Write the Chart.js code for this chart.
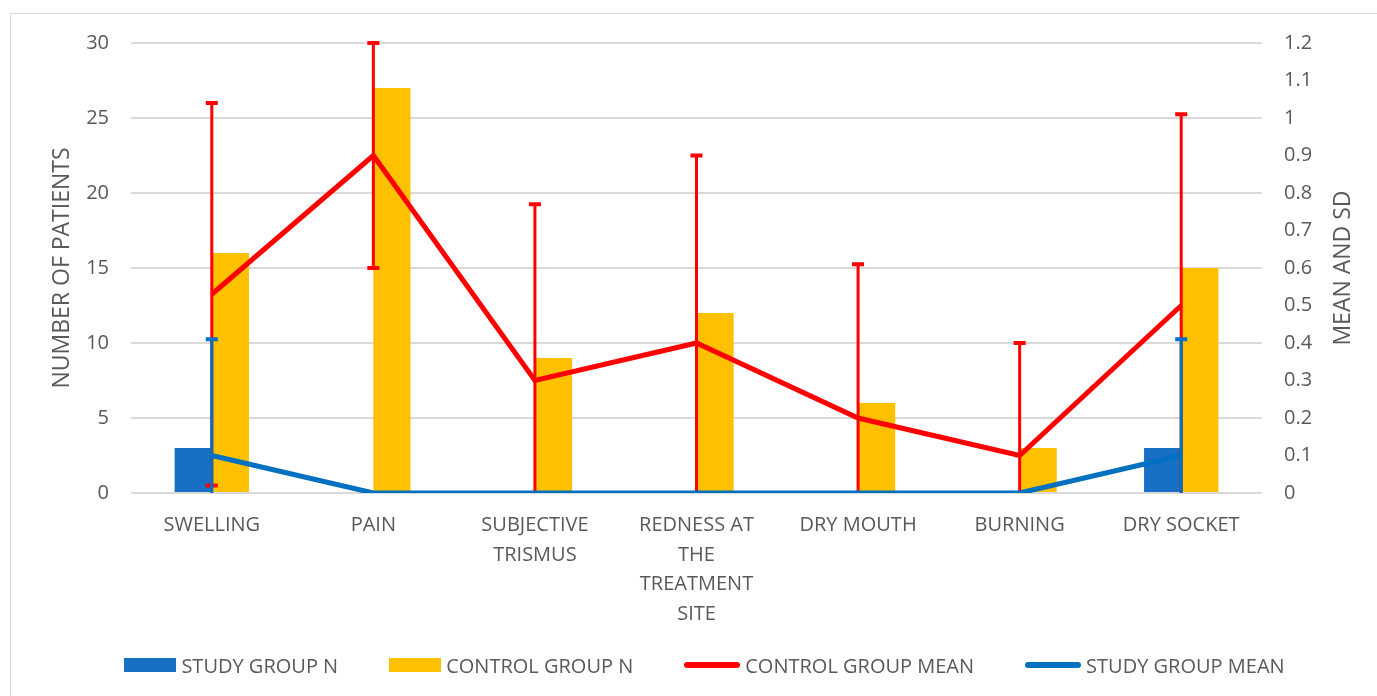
<!DOCTYPE html>
<html>
<head>
<meta charset="utf-8">
<script src="https://cdn.jsdelivr.net/npm/chart.js@4/dist/chart.umd.min.js"></script>
<style>
  html, body { margin: 0; padding: 0; background: #fff; overflow: hidden; }
  #wrap { position: relative; width: 1377px; height: 696px; font-family: "Open Sans", sans-serif; }
  #frame { position: absolute; left: 10px; top: 13px; width: 1400px; height: 720px; border: 1px solid #d9d9d9; pointer-events: none; }
  #legend { position: absolute; left: 0; width: 1377px; top: 651px; height: 28px; padding-left: 32px; box-sizing: border-box;
            display: flex; justify-content: center; align-items: center; gap: 51px; color: #595959; font-size: 20px; }
  #legend .item { display: flex; align-items: center; gap: 5px; white-space: nowrap; }
  #legend .box { width: 52px; height: 14px; }
  #legend .line { width: 56px; height: 6px; border-radius: 3px; }
</style>
</head>
<body>
<div id="wrap">
  <canvas id="chart" width="1377" height="696"></canvas>
  <div id="legend"></div>
  <div id="frame"></div>
</div>
<script>
const FONT = '"Open Sans", Lato, sans-serif';
const TEXT = '#595959';

// Categories
const categories = [
  ['SWELLING'],
  ['PAIN'],
  ['SUBJECTIVE', 'TRISMUS'],
  ['REDNESS AT', 'THE', 'TREATMENT', 'SITE'],
  ['DRY MOUTH'],
  ['BURNING'],
  ['DRY SOCKET']
];

// Number of patients (left axis)
const studyN = [3, 0, 0, 0, 0, 0, 3];
const controlN = [16, 27, 9, 12, 6, 3, 15];

// Mean and SD (right axis)
const controlMean = [0.53, 0.9, 0.3, 0.4, 0.2, 0.1, 0.5];
const controlSD = [0.51, 0.3, 0.47, 0.5, 0.41, 0.3, 0.51];
const studyMean = [0.1, 0, 0, 0, 0, 0, 0.1];
const studySD = [0.31, 0, 0, 0, 0, 0, 0.31];

const sdByDataset = { 2: controlSD, 3: studySD };

// draw SD whiskers right after their line is drawn
const errorBars = {
  id: 'errorBars',
  afterDatasetDraw(chart, args) {
    const sd = sdByDataset[args.index];
    if (!sd) return;
    const ds = chart.data.datasets[args.index];
    const meta = args.meta;
    const y1 = chart.scales.y1;
    const area = chart.chartArea;
    const ctx = chart.ctx;
    ctx.save();
    ctx.beginPath();
    ctx.rect(area.left, area.top - 5, area.right - area.left, area.bottom - area.top + 5);
    ctx.clip();
    ctx.strokeStyle = ds.borderColor;
    meta.data.forEach((pt, i) => {
      if (!sd[i]) return;
      const v = ds.data[i];
      const top = y1.getPixelForValue(v + sd[i]);
      const bot = y1.getPixelForValue(v - sd[i]);
      ctx.lineWidth = 3;
      ctx.beginPath();
      ctx.moveTo(pt.x, top);
      ctx.lineTo(pt.x, bot);
      ctx.stroke();
      ctx.lineWidth = 4;
      ctx.beginPath();
      ctx.moveTo(pt.x - 6, top);
      ctx.lineTo(pt.x + 6, top);
      ctx.moveTo(pt.x - 6, bot);
      ctx.lineTo(pt.x + 6, bot);
      ctx.stroke();
    });
    ctx.restore();
  }
};

// axis titles, both read bottom to top
const axisTitles = {
  id: 'axisTitles',
  afterDraw(chart) {
    const ctx = chart.ctx;
    const area = chart.chartArea;
    const cy = (area.top + area.bottom) / 2;
    ctx.save();
    ctx.fillStyle = TEXT;
    ctx.font = '23px ' + FONT;
    ctx.textAlign = 'center';
    ctx.textBaseline = 'middle';
    [[62, 'NUMBER OF PATIENTS'], [1343, 'MEAN AND SD']].forEach(([x, t]) => {
      ctx.save();
      ctx.translate(x, cy);
      ctx.rotate(-Math.PI / 2);
      ctx.fillText(t, 0, 0);
      ctx.restore();
    });
    ctx.restore();
  }
};

const chart = new Chart(document.getElementById('chart'), {
  type: 'bar',
  data: {
    labels: categories,
    datasets: [
      {
        label: 'STUDY GROUP N',
        data: studyN,
        backgroundColor: '#1870C5',
        yAxisID: 'y',
        order: 2,
        categoryPercentage: 0.46,
        barPercentage: 1
      },
      {
        label: 'CONTROL GROUP N',
        data: controlN,
        backgroundColor: '#FFC000',
        yAxisID: 'y',
        order: 3,
        categoryPercentage: 0.46,
        barPercentage: 1
      },
      {
        type: 'line',
        label: 'CONTROL GROUP MEAN',
        data: controlMean,
        borderColor: '#FF0000',
        backgroundColor: '#FF0000',
        borderWidth: 5,
        pointRadius: 0,
        tension: 0,
        yAxisID: 'y1',
        order: 1
      },
      {
        type: 'line',
        label: 'STUDY GROUP MEAN',
        data: studyMean,
        borderColor: '#0070C0',
        backgroundColor: '#0070C0',
        borderWidth: 5,
        pointRadius: 0,
        tension: 0,
        yAxisID: 'y1',
        order: 0
      }
    ]
  },
  options: {
    responsive: false,
    animation: false,
    layout: { padding: { top: 43, bottom: 68 } },
    plugins: {
      tooltip: { enabled: false },
      legend: { display: false }
    },
    scales: {
      x: {
        grid: { display: false },
        border: { display: false },
        ticks: {
          color: TEXT,
          font: { family: FONT, size: 20, lineHeight: 1.475 },
          padding: 10,
          maxRotation: 0,
          autoSkip: false
        },
        afterFit(scale) { scale.height = 135; }
      },
      y: {
        position: 'left',
        min: 0,
        max: 30,
        ticks: {
          stepSize: 5,
          color: TEXT,
          font: { family: FONT, size: 20 },
          padding: 22
        },
        grid: { color: '#d9d9d9', lineWidth: 2, drawTicks: false },
        border: { display: false },
        afterFit(scale) { scale.width = 131; }
      },
      y1: {
        position: 'right',
        min: 0,
        max: 1.2,
        ticks: {
          stepSize: 0.1,
          color: TEXT,
          font: { family: FONT, size: 20 },
          padding: 22,
          callback: v => String(+v.toFixed(1))
        },
        grid: { display: false, drawTicks: false },
        border: { display: false },
        afterFit(scale) { scale.width = 115; }
      }
    }
  },
  plugins: [errorBars, axisTitles]
});

// legend built from the datasets
const legend = document.getElementById('legend');
chart.data.datasets.forEach(ds => {
  const item = document.createElement('div');
  item.className = 'item';
  const mark = document.createElement('span');
  mark.className = ds.type === 'line' ? 'line' : 'box';
  mark.style.background = ds.backgroundColor;
  const label = document.createElement('span');
  label.textContent = ds.label;
  item.appendChild(mark);
  item.appendChild(label);
  legend.appendChild(item);
});
</script>
</body>
</html>
